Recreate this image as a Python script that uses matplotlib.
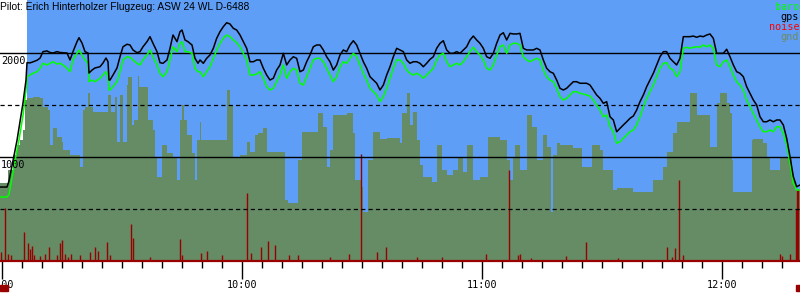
import matplotlib
matplotlib.use("Agg")
import matplotlib.pyplot as plt
from matplotlib.patches import Rectangle

# flight log: seconds after 09:00
# climb out on tow, irregular samples
early_t = [-30, 75, 105, 225, 255, 315, 360, 375, 420, 465, 525, 570, 615, 675, 720, 765,
           825, 870, 915, 975, 1020, 1065, 1125, 1155, 1200, 1245, 1290, 1305, 1350, 1395,
           1470, 1515, 1560, 1590, 1605, 1620, 1665, 1725, 1770, 1815, 1875, 1920, 1965,
           2025, 2070, 2115, 2175, 2220, 2265, 2325, 2370, 2415, 2475, 2520, 2565, 2625,
           2670, 2700, 2745, 2790, 2850, 2895, 2940]
early_gps = [711, 711, 770, 1160, 1280, 1520, 1740, 1907, 1905, 1915, 1930, 1950, 2013, 2020,
             2005, 2000, 2013, 2005, 2003, 2000, 1933, 2013, 2109, 2147, 2096, 2013, 2000,
             1807, 1836, 1856, 1868, 1904, 1952, 1916, 1740, 1740, 1788, 1856, 1964, 2060,
             2084, 2077, 2029, 2003, 2013, 2060, 2109, 2157, 2093, 2013, 1907, 1901, 1933,
             2045, 2173, 2109, 2205, 2221, 2125, 2109, 2077, 1949, 1901]
early_baro = [615, 615, 640, 1067, 1163, 1400, 1640, 1772, 1788, 1805, 1820, 1853, 1901, 1885,
              1901, 1916, 1894, 1901, 1885, 1853, 1820, 1933, 1997, 2029, 1981, 1933, 1900,
              1724, 1740, 1724, 1757, 1788, 1820, 1772, 1644, 1644, 1676, 1724, 1820, 1933,
              1964, 1959, 1933, 1901, 1885, 1933, 1981, 2029, 1964, 1885, 1805, 1772, 1820,
              1933, 2060, 2013, 2093, 2109, 2013, 2013, 1997, 1853, 1820]

# rest of the log, fixed 50 s interval
log_start = 2970
log_step = 50
log_gps = [1933, 1901, 1949, 1981, 2045, 2141, 2205, 2253, 2291, 2279, 2237, 2221, 2173, 2109,
           2045, 1916, 1916, 1933, 1933, 1853, 1788, 1740, 1757, 1836, 1885, 1997, 1885, 1933,
           1964, 1949, 1820, 1836, 1916, 1981, 2060, 2077, 2077, 2029, 1964, 1916, 1836, 1885,
           1981, 2029, 2013, 2077, 2118, 2077, 1997, 1916, 1853, 1772, 1740, 1709, 1644, 1692,
           1788, 1868, 1964, 2045,
           2029, 2013, 1933, 1901, 1916, 1916, 1901, 1868, 1901, 1939, 1964, 2045, 2093, 2118,
           2029, 1997, 1997, 2013, 1997, 2029, 2060, 2125, 2163, 2125, 2093, 2045, 1964, 1949,
           1997, 2093, 2173, 2195, 2125, 2189, 2183, 2183, 2189, 2045, 2029, 2029, 2029, 2045,
           2029, 1933, 1853, 1820, 1805, 1740, 1661, 1644, 1661, 1692, 1724, 1724, 1709, 1709,
           1709, 1692, 1644, 1596,
           1564, 1516, 1532, 1387, 1356, 1243, 1276, 1308, 1339, 1372, 1394, 1452, 1532, 1596,
           1676, 1740, 1805, 1885, 1964, 2013, 2013, 1949, 1916, 1885, 1949, 2157, 2157, 2157,
           2163, 2151, 2163, 2157, 2173, 2183, 2141, 1997, 1997, 1997, 2036, 1964, 1885, 1820,
           1805, 1772, 1676, 1612, 1548, 1500, 1387, 1339, 1339, 1356, 1339, 1356, 1356, 1308,
           1180, 1003, 811, 714, 731]
log_baro = [1820, 1772, 1820, 1868, 1949, 2029, 2093, 2141, 2173, 2157, 2125, 2099, 2060, 1997,
            1933, 1788, 1788, 1798, 1820, 1757, 1676, 1644, 1661, 1724, 1788, 1885, 1757, 1820,
            1853, 1836, 1709, 1692, 1772, 1853, 1933, 1949, 1949, 1916, 1853, 1788, 1724, 1772,
            1868, 1916, 1901, 1949, 1997, 1964, 1885, 1805, 1740, 1661, 1628, 1596, 1532, 1580,
            1661, 1757, 1853, 1933,
            1933, 1901, 1836, 1805, 1788, 1805, 1788, 1757, 1788, 1820, 1853, 1933, 1981, 1997,
            1916, 1868, 1885, 1901, 1885, 1916, 1964, 2013, 2055, 2013, 1981, 1933, 1853, 1836,
            1885, 1981, 2060, 2077, 1997, 2077, 2093, 2093, 2077, 1964, 1933, 1916, 1933, 1949,
            1933, 1836, 1772, 1740, 1724, 1661, 1580, 1548, 1564, 1596, 1628, 1628, 1612, 1606,
            1596, 1586, 1548, 1500,
            1452, 1387, 1404, 1291, 1243, 1132, 1147, 1180, 1211, 1243, 1260, 1308, 1387, 1484,
            1564, 1628, 1692, 1772, 1853, 1901, 1907, 1853, 1836, 1772, 1820, 2045, 2055, 2045,
            2055, 2060, 2055, 2077, 2060, 2077, 2045, 1885, 1868, 1916, 1933, 1868, 1788, 1724,
            1692, 1644, 1548, 1484, 1420, 1356, 1291, 1243, 1243, 1260, 1243, 1291, 1291, 1228,
            1115, 939, 747, 683, 683]

# terrain under the track (step profile)
gnd_t = [-30, 90, 165, 225, 270, 315, 345, 375, 465, 570, 615, 690, 720, 765, 825, 900, 915,
         1020, 1170, 1215, 1245, 1290, 1320, 1365, 1590, 1635, 1695, 1725, 1770, 1815, 1875,
         1890, 1950, 1980, 2040, 2055, 2190, 2265, 2295, 2325, 2400, 2475, 2565, 2625, 2670,
         2700, 2730, 2775, 2850, 2895, 2925, 2970, 2985, 3375, 3420, 3465, 3570, 3675, 3720,
         3795, 3840, 3915, 3975, 4245, 4290, 4440, 4500, 4740, 4815, 4875, 4920, 4965, 5175,
         5265, 5295, 5400, 5415, 5490, 5565, 5670, 5775, 5970, 6000, 6075, 6120, 6165, 6225,
         6270, 6315, 6450, 6525, 6600, 6675, 6765, 6840, 6915, 6975, 7065, 7170, 7290, 7470,
         7575, 7620, 7665, 7695, 7770, 7875, 7950, 8025, 8115, 8175, 8235, 8265, 8325, 8370,
         8565, 8700, 8850, 8970, 9015, 9165, 9225, 9465, 9765, 9915, 9975, 10065, 10125,
         10320, 10365, 10425, 10620, 10725, 10770, 10875, 10920, 10950, 10965, 11220, 11250,
         11265, 11415, 11475, 11520, 11670, 11850, 11895, 11970]
gnd_alt = [750, 875, 1019, 1115, 1163, 1260, 1548, 1567, 1577, 1567, 1484, 1450, 1115, 1279,
           1192, 1147, 1067, 1019, 907, 1452, 1484, 1615, 1484, 1436, 1596, 1436, 1580, 1147,
           1596, 1147, 1692, 1772, 1308, 1356, 1782, 1676, 1356, 1260, 1003, 811, 1115, 1038,
           1003, 779, 1356, 1500, 1356, 1211, 1038, 779, 1163, 1339, 1163, 1644, 1500, 1003,
           1019, 1147, 1051, 1211, 1230, 1279, 1051, 587, 558, 971, 1243, 1423, 1291, 907, 1067,
           1404, 1423, 1230, 779, 714, 474, 971, 1243, 1173, 1180, 1132, 1420, 1612, 1308, 1436,
           1163, 923, 811, 762, 1115, 875, 827, 875, 990, 859, 1115, 779, 811, 1195, 1163, 971,
           779, 990, 1115, 875, 1404, 1291, 971, 1211, 1099, 474, 1019, 1132, 1115, 1084, 907,
           1115, 1067, 875, 683, 699, 666, 779, 907, 1051, 1228, 1337, 1612, 1615, 1404, 1099,
           1519, 1612, 1519, 1423, 971, 666, 666, 1163, 1173, 1132, 1003, 875, 990, 779, 683,
           683]

# engine noise level
noise_t = [-22, 45, 90, 135, 330, 390, 420, 450, 480, 570, 645, 705, 825, 870, 900, 945, 990,
           1035, 1170, 1320, 1395, 1440, 1575, 1620, 1935, 1965, 2220, 2670, 2700, 2985, 3075,
           3300, 3675, 3735, 3885, 3990, 4095, 4305, 4440, 4920, 5205, 5385, 5625, 5760, 6225,
           6600, 7260, 7605, 7740, 7770, 7935, 8460, 8760, 9240, 9975, 10050, 10095, 10155,
           10215, 11670, 11700, 11820, 11910, 11925, 11940]
noise_val = [89, 507, 70, 60, 282, 173, 115, 140, 60, 50, 70, 138, 60, 176, 202, 70, 40, 70, 60,
             90, 135, 100, 183, 60, 356, 220, 40, 212, 60, 80, 99, 60, 651, 77, 138, 192, 154,
             60, 60, 40, 70, 1029, 86, 138, 40, 40, 67, 875, 60, 70, 30, 50, 186, 30, 135, 40,
             125, 779, 60, 70, 50, 70, 500, 683, 683]

release_s = 375      # end of tow, sky drawn from here
takeoff_s = 75
landing_s = 11925

hours = [0, 60, 120, 180]
hour_labels = ["9:00", "10:00", "11:00", "12:00"]
ref_lines = [1000, 2000]
dash_lines = [500, 1500]

title = "Pilot: Erich Hinterholzer Flugzeug: ASW 24 WL D-6488"
legend_items = [("baro", "#00ff00"), ("gps", "black"), ("noise", "#ff0000"), ("gnd", "#6e8a64")]

sky = "#5e9ef6"
gnd_col = "#658c65"
noise_col = "#990000"
mono = "DejaVu Sans Mono"

plt.rcParams["lines.scale_dashes"] = False

log_t = [log_start + log_step * i for i in range(len(log_gps))]
t_min = [s / 60 for s in early_t + log_t]
gps = early_gps + log_gps
baro = early_baro + log_baro

fig = plt.figure(figsize=(8, 3), dpi=100)
ax = fig.add_axes([0, 39 / 300, 1, 261 / 300])
ax.set_xlim(-0.5, 199.5)
ax.set_ylim(0, 2509.6)
ax.set_facecolor("white")
for sp in ax.spines.values():
    sp.set_visible(False)

ax.axvspan(release_s / 60, 199.5, color=sky, lw=0, zorder=0)
ax.fill_between([s / 60 for s in gnd_t], gnd_alt, 0, step="post", color=gnd_col, lw=0, zorder=1)
ax.vlines([s / 60 for s in noise_t], 0, noise_val, color=noise_col, lw=1, zorder=2)

for y in ref_lines:
    ax.axhline(y, color="black", lw=1, zorder=3)
    ax.text(-0.3, y - 25, str(y), ha="left", va="top", fontsize=7.3, family=mono, zorder=6)
for y in dash_lines:
    ax.axhline(y, color="black", lw=0.9, ls=(0, (3, 2.3)), zorder=3)

ax.plot(t_min, baro, color="#00ff00", lw=1.1, zorder=4)
ax.plot(t_min, gps, color="black", lw=1.1, zorder=5)

ax.axhline(0, color=noise_col, lw=1.6, zorder=6, clip_on=False)

ax.set_yticks([])
ax.set_xticks(hours, hour_labels, family=mono, fontsize=7.3)
ax.set_xticks(range(0, 200, 5), minor=True)
ax.tick_params(axis="x", which="major", length=13, width=1, pad=1)
ax.tick_params(axis="x", which="minor", length=5, width=1)

xt = ax.get_xaxis_transform()
ax.plot([takeoff_s / 60] * 2, [0, -19 / 261], color="#00dd00", lw=2.2, clip_on=False,
        solid_capstyle="butt", zorder=7)
ax.plot([landing_s / 60] * 2, [0, -19 / 261], color=noise_col, lw=1.4, clip_on=False,
        solid_capstyle="butt", zorder=7)
ax.add_patch(Rectangle((-0.5, -30 / 261), 2, 6 / 261, transform=xt, color=noise_col,
                       clip_on=False, zorder=7))
ax.add_patch(Rectangle((landing_s / 60 - 0.25, -30 / 261), 1, 6 / 261, transform=xt,
                       color=noise_col, clip_on=False, zorder=7))

fig.text(0.0, 1 - 7 / 300, title, ha="left", va="center", fontsize=7.4,
         family="Liberation Sans")
for i, (name, col) in enumerate(legend_items):
    fig.text(0.999, 1 - (7 + 10 * i) / 300, name, ha="right", va="center", fontsize=7.3,
             family=mono, color=col)

fig.savefig("out.png", dpi=100)
